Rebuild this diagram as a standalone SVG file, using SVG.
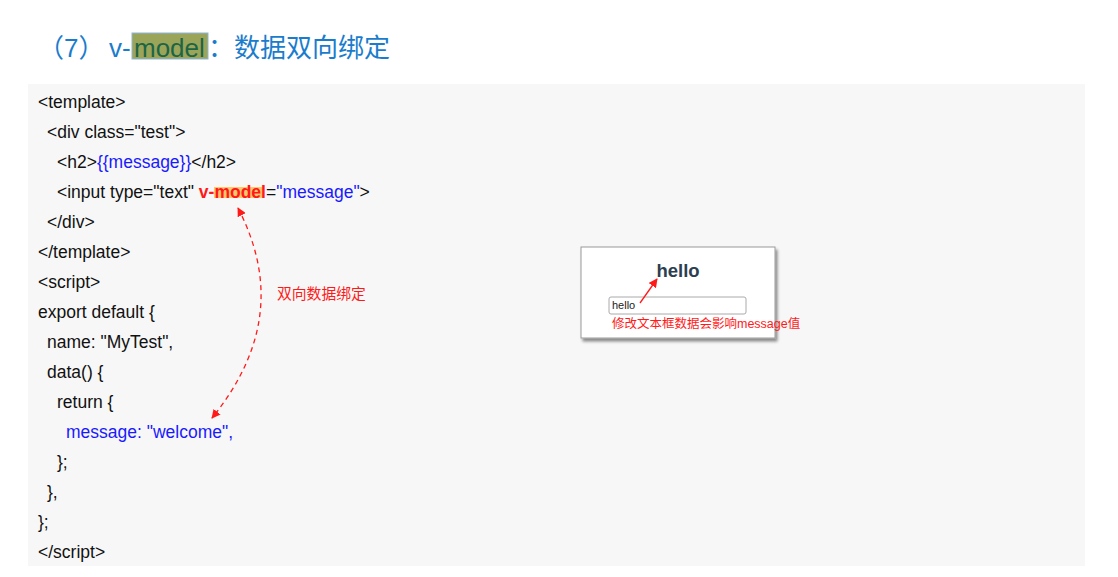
<svg xmlns="http://www.w3.org/2000/svg" width="1118" height="577" viewBox="0 0 1118 577">
<style>
.code{font-family:"Liberation Sans",Arial,sans-serif;font-size:17.5px;fill:#111}
.blue{fill:#1a1aff}
.red{fill:#ff1a1a}
.b{font-weight:bold}
.title{font-family:"Liberation Sans","Noto Sans CJK SC",sans-serif;font-size:26px;fill:#1a7ccc}
.cjk{font-family:"Liberation Sans","Noto Sans CJK SC",sans-serif}
.conn{fill:none;stroke:#ff1a1a;stroke-width:1.3}
</style>
<defs>
<marker id="ah" viewBox="0 0 10 10" refX="9" refY="5" markerWidth="9" markerHeight="9" markerUnits="userSpaceOnUse" orient="auto-start-reverse">
<path d="M0,0 L10,5 L0,10 z" fill="#ff1a1a"/>
</marker>
<filter id="sh" x="-10%" y="-10%" width="130%" height="140%">
<feGaussianBlur in="SourceAlpha" stdDeviation="1.5"/>
<feOffset dx="2" dy="3" result="o"/>
<feComponentTransfer><feFuncA type="linear" slope="0.45"/></feComponentTransfer>
<feMerge><feMergeNode/><feMergeNode in="SourceGraphic"/></feMerge>
</filter>
</defs>
<rect width="1118" height="577" fill="#ffffff"/>

<g id="title">
<rect x="132" y="33" width="76" height="26" fill="#9aa55a" stroke="#8fb4d9" stroke-width="1"/>
<text class="title" y="57"><tspan x="38">（7）</tspan><tspan x="109">v-</tspan><tspan x="134" fill="#1d6445">model</tspan><tspan x="208">：数据双向绑定</tspan></text>
</g>

<g id="code-block">
<rect x="28" y="84" width="1057" height="482" fill="#f7f7f7"/>
<rect x="214" y="187" width="50" height="11" fill="#fdc86b"/>
<text class="code" x="38" y="108">&lt;template&gt;</text>
<text class="code" x="47" y="138">&lt;div class="test"&gt;</text>
<text class="code" x="57" y="168">&lt;h2&gt;<tspan class="blue">{{message}}</tspan>&lt;/h2&gt;</text>
<text class="code" x="57" y="198">&lt;input type="text" <tspan class="red b">v-model</tspan>=<tspan class="blue">"message"</tspan>&gt;</text>
<text class="code" x="47" y="228">&lt;/div&gt;</text>
<text class="code" x="38" y="258">&lt;/template&gt;</text>
<text class="code" x="38" y="288">&lt;script&gt;</text>
<text class="code" x="38" y="318">export default {</text>
<text class="code" x="47" y="348">name: "MyTest",</text>
<text class="code" x="47" y="378">data() {</text>
<text class="code" x="57" y="408">return {</text>
<text class="code blue" x="66" y="438">message: "welcome",</text>
<text class="code" x="57" y="468">};</text>
<text class="code" x="47" y="498">},</text>
<text class="code" x="38" y="528">};</text>
<text class="code" x="38" y="558">&lt;/script&gt;</text>
</g>

<g id="binding-label">
<text class="cjk red" x="277" y="299" font-size="14.8">双向数据绑定</text>
</g>

<g id="preview">
<rect x="581" y="247" width="194" height="91" fill="#ffffff" stroke="#9a9a9a" stroke-width="1" filter="url(#sh)"/>
<text x="678" y="277" text-anchor="middle" font-family="Liberation Sans,Arial,sans-serif" font-weight="bold" font-size="18.5" fill="#2c3e50">hello</text>
<rect x="609" y="297" width="137" height="17" rx="2" fill="#ffffff" stroke="#aaaaaa" stroke-width="1"/>
<text x="612" y="309" font-family="Liberation Sans,Arial,sans-serif" font-size="11" fill="#222">hello</text>
<text class="cjk red" x="612" y="328" font-size="12.5">修改文本框数据会影响message值</text>
</g>

<g id="connectors">
<path class="conn" d="M238,208 C270,270 275,340 212,418" stroke-dasharray="5,4" marker-start="url(#ah)" marker-end="url(#ah)"/>
<line class="conn" x1="640" y1="303" x2="657" y2="279" marker-end="url(#ah)"/>
</g>
</svg>
